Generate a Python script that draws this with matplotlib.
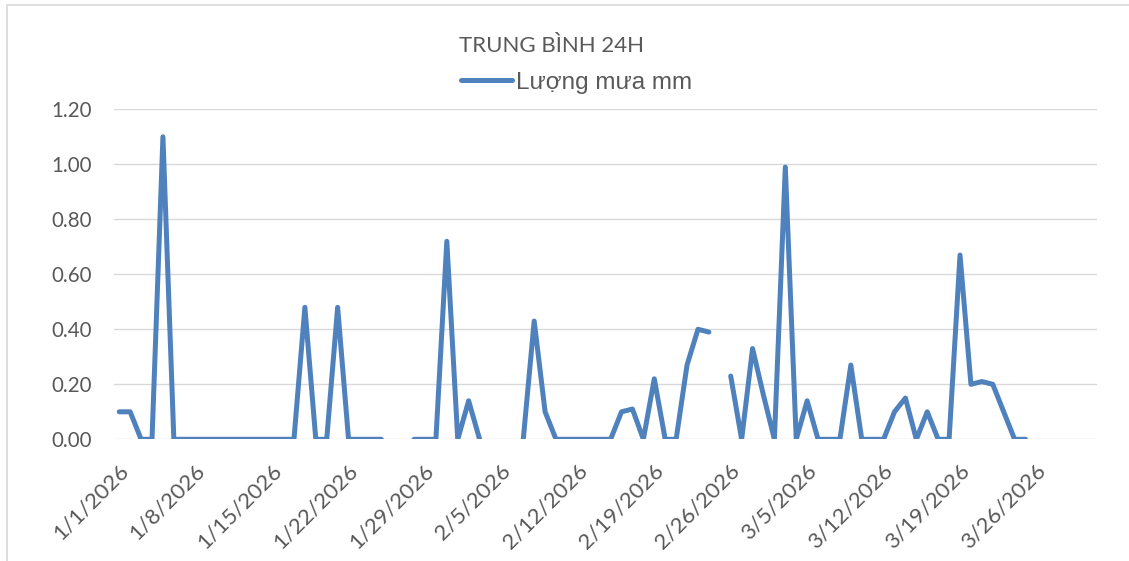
import numpy as np
import pandas as pd
import matplotlib
matplotlib.use("Agg")
import matplotlib.pyplot as plt
import matplotlib.dates as mdates
import matplotlib.transforms as mtransforms
from matplotlib.patches import Rectangle

# ---- data ----
start_date = "2026-01-01"
rain_mm = [
    0.10, 0.10, 0.00, 0.00, 1.10, 0.00, 0.00, 0.00, 0.00, 0.00,
    0.00, 0.00, 0.00, 0.00, 0.00, 0.00, 0.00, 0.48, 0.00, 0.00,
    0.48, 0.00, 0.00, 0.00, 0.00, np.nan, np.nan, 0.00, 0.00, 0.00,
    0.72, 0.00, 0.14, 0.00, np.nan, np.nan, np.nan, 0.00, 0.43, 0.10,
    0.00, 0.00, 0.00, 0.00, 0.00, 0.00, 0.10, 0.11, 0.00, 0.22,
    0.00, 0.00, 0.27, 0.40, 0.39, np.nan, 0.23, 0.00, 0.33, 0.16,
    0.00, 0.99, 0.00, 0.14, 0.00, 0.00, 0.00, 0.27, 0.00, 0.00,
    0.00, 0.10, 0.15, 0.00, 0.10, 0.00, 0.00, 0.67, 0.20, 0.21,
    0.20, 0.10, 0.00, 0.00,
]
dates = pd.date_range(start_date, periods=len(rain_mm), freq="D")
tick_dates = pd.date_range("2026-01-01", "2026-03-26", freq="7D")
tick_labels = ["1/1/2026", "1/8/2026", "1/15/2026", "1/22/2026", "1/29/2026",
               "2/5/2026", "2/12/2026", "2/19/2026", "2/26/2026", "3/5/2026",
               "3/12/2026", "3/19/2026", "3/26/2026"]
y_ticks = [0.0, 0.2, 0.4, 0.6, 0.8, 1.0, 1.2]
axis_start = pd.Timestamp("2026-01-01")
axis_end = pd.Timestamp("2026-03-31")
title = "TRUNG BÌNH 24H"
series_name = "Lượng mưa mm"

# ---- style ----
W, H = 1129, 561
DPI = 100
TXT = "#595959"
LINE = "#4F81BD"
GRID = "#D9D9D9"
plt.rcParams["font.family"] = ["Lato", "DejaVu Sans"]

fig = plt.figure(figsize=(W / DPI, H / DPI), dpi=DPI)
fig.patch.set_facecolor("white")

# chart border (only left/top visible in reference)
fig.patches.append(Rectangle((6.5 / W, -0.1), 1.2, (H - 4.5) / H + 0.1,
                             transform=fig.transFigure, fill=False,
                             edgecolor=GRID, linewidth=1.2, zorder=0))

left, right = 113.8 / W, 1096.5 / W
bottom, top = 1 - 439.3 / H, 1 - 109.3 / H
ax = fig.add_axes([left, bottom, right - left, top - bottom])

ax.plot(dates, rain_mm, color=LINE, linewidth=3.6,
        solid_capstyle="round", solid_joinstyle="round", label=series_name,
        zorder=3)

ax.set_xlim(axis_start - pd.Timedelta(hours=12), axis_end + pd.Timedelta(hours=12))
ax.set_ylim(0, 1.2)
ax.set_yticks(y_ticks)
ax.set_yticklabels([f"{v:.2f}" for v in y_ticks])
ax.set_xticks(mdates.date2num(tick_dates))
ax.set_xticklabels(tick_labels)

ax.grid(axis="y", color=GRID, linewidth=1.0)
ax.set_axisbelow(True)
for s in ax.spines.values():
    s.set_visible(False)
ax.tick_params(axis="both", length=0, colors=TXT)
ax.tick_params(axis="y", labelsize=14.8, pad=16)
ax.tick_params(axis="x", labelsize=16, pad=15)

offset = mtransforms.ScaledTranslation(-1 / DPI, 0, fig.dpi_scale_trans)
for lbl in ax.get_xticklabels():
    lbl.set_rotation(45)
    lbl.set_ha("right")
    lbl.set_va("top")
    lbl.set_rotation_mode("anchor")
    lbl.set_transform(lbl.get_transform() + offset)

fig.text(551.7 / W, 1 - 46 / H, title, ha="center", va="center",
         fontsize=16, color=TXT)

leg = fig.legend(loc="center left", bbox_to_anchor=(461 / W, 1 - 82.5 / H),
                 frameon=False, borderpad=0, borderaxespad=0,
                 prop={"family": ["Liberation Sans", "DejaVu Sans"], "size": 17.5},
                 handlelength=2.1, handletextpad=0.15, labelcolor=TXT)

fig.savefig("out.png", dpi=DPI, facecolor="white")
